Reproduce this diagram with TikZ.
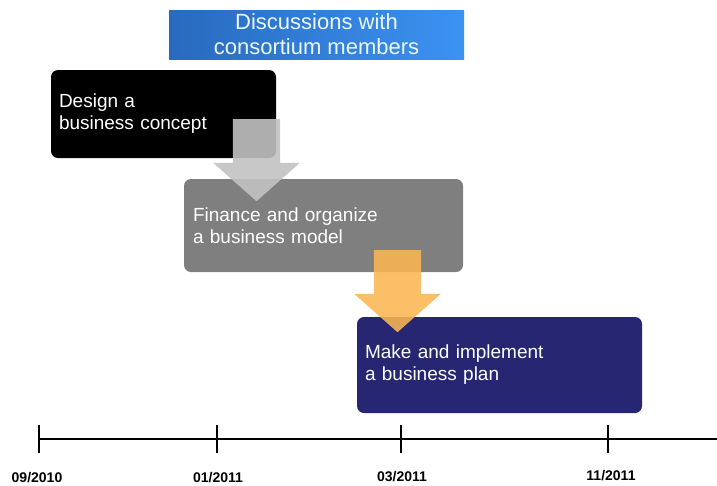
\documentclass[tikz,border=0pt]{standalone}
\usepackage{fontspec}
\setmainfont{Liberation Sans}
\usepackage{tikz}
\usetikzlibrary{shapes.arrows, positioning, calc}

\definecolor{bannerL}{RGB}{40,106,190}
\definecolor{bannerR}{RGB}{60,146,242}
\definecolor{stepgray}{RGB}{127,127,127}
\definecolor{stepnavy}{RGB}{38,38,115}
\definecolor{arrgray}{RGB}{194,194,194}
\definecolor{arrorange}{RGB}{250,183,82}

\begin{document}
\begin{tikzpicture}[
    x=1pt, y=-1pt,
    phase/.style={rectangle, rounded corners=7pt, text=white, align=left, inner xsep=8pt,
                  font=\fontsize{19}{22}\selectfont},
    blockarrow/.style={single arrow, shape border rotate=270, inner sep=23.5pt,
                  single arrow head extend=19.5pt, single arrow tip angle=97, minimum height=82pt},
    datelabel/.style={anchor=base, font=\fontsize{14}{15}\selectfont\bfseries}
]
    \useasboundingbox (0,0) rectangle (717,485);

    % Banner
    \node[left color=bannerL, right color=bannerR, minimum width=295pt, minimum height=49pt,
          text=white!92!cyan, align=center, inner sep=0pt,
          font=\fontsize{22}{25}\selectfont] (banner) at (316.5,34.5)
          {Discussions with\\consortium members};

    % Phases
    \node[phase, fill=black, minimum width=225pt, minimum height=88pt, text width=209pt] (design) at (163.5,114) {Design a\\business concept};
    \node[phase, fill=stepgray, minimum width=279pt, minimum height=93pt, text width=261pt, inner xsep=9pt] (finance) at (323.5,225.5) {Finance and organize\\a business model};
    \node[phase, fill=stepnavy, minimum width=285pt, minimum height=96pt, text width=269pt] (make) at (499.5,365) {Make and implement\\a business plan};

    % Block arrows
    \node[blockarrow, fill=arrgray, fill opacity=0.9, anchor=tail] (arrA) at (256.5,119) {};
    \node[blockarrow, fill=arrorange, fill opacity=0.88, anchor=tail] (arrB) at (397.5,250) {};

    % Time line
    \coordinate (tstart) at (39,439);
    \coordinate (tend) at (717,439);
    \draw[line width=1.3pt] (tstart) -- (tend);
    \foreach \x in {39,217,401,608}
        \draw[line width=1.3pt] (\x,425) -- (\x,453);

    \node[datelabel] (d1) at (37,482) {09/2010};
    \node[datelabel] (d2) at (218,482) {01/2011};
    \node[datelabel] (d3) at (402,481.5) {03/2011};
    \node[datelabel] (d4) at (611,480) {11/2011};
\end{tikzpicture}
\end{document}
